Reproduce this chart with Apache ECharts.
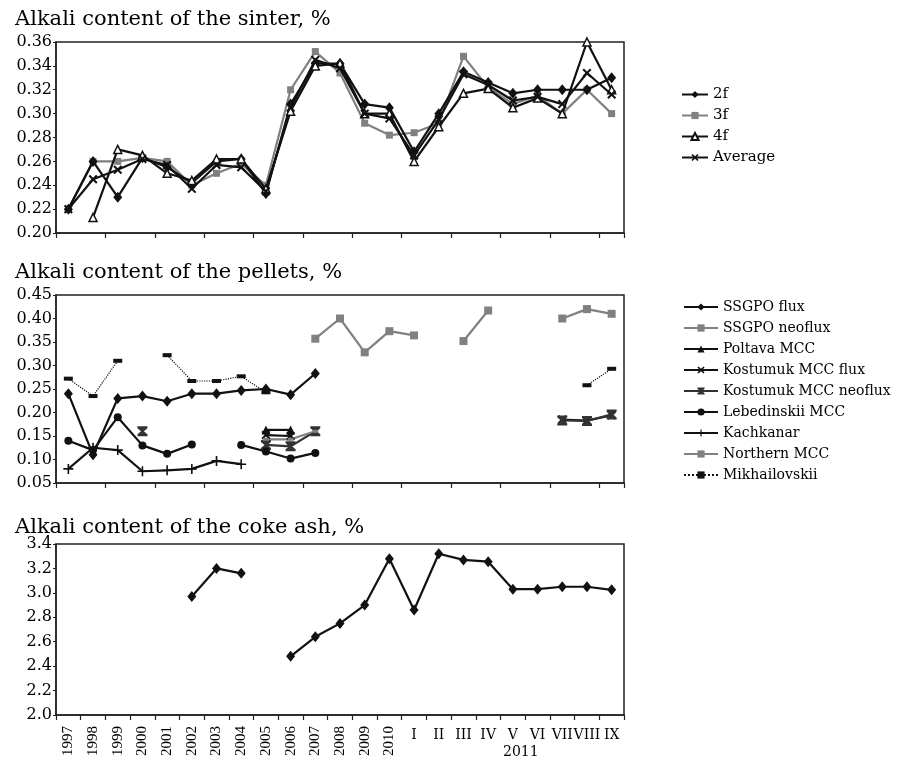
<!DOCTYPE html>
<html>
<head>
<meta charset="utf-8">
<script src="https://cdn.jsdelivr.net/npm/echarts@6/dist/echarts.min.js"></script>
<style>
html,body{margin:0;padding:0;background:#fff;}
#chart{width:910px;height:762px;}
</style>
</head>
<body>
<div id="chart"></div>
<script>
// ---------- data ----------
const categories = ['1997','1998','1999','2000','2001','2002','2003','2004','2005','2006','2007','2008','2009','2010','I','II','III','IV','V','VI','VII','VIII','IX'];

// sinter
const sinter2f  = [0.22,0.26,0.23,0.263,0.255,0.242,0.26,0.262,0.233,0.308,0.342,0.342,0.308,0.305,0.268,0.30,0.335,0.326,0.317,0.32,0.32,0.32,0.33];
const sinter3f  = [0.22,0.26,0.26,0.263,0.26,0.24,0.25,0.258,0.24,0.32,0.352,0.334,0.292,0.282,0.284,0.292,0.348,0.322,0.308,0.315,0.30,0.32,0.30];
const sinter4f  = [null,0.213,0.27,0.265,0.25,0.244,0.262,0.262,0.237,0.302,0.34,0.342,0.30,0.30,0.26,0.289,0.317,0.321,0.305,0.313,0.30,0.36,0.32];
const sinterAvg = [0.22,0.245,0.253,0.262,0.257,0.237,0.257,0.255,0.235,0.305,0.345,0.338,0.30,0.296,0.265,0.295,0.333,0.324,0.311,0.314,0.308,0.334,0.316];

// pellets
const ssgpoFlux  = [0.24,0.11,0.23,0.235,0.224,0.24,0.24,0.247,0.25,0.238,0.283,null,null,null,null,null,null,null,null,null,null,null,null];
const ssgpoNeo   = [null,null,null,null,null,null,null,null,null,null,0.357,0.40,0.328,0.373,0.364,null,0.352,0.417,null,null,0.40,0.42,0.41];
const poltava    = [null,null,null,null,null,null,null,null,0.163,0.163,null,null,null,null,null,null,null,null,null,null,null,null,null];
const kostFlux   = [null,null,null,null,null,null,null,null,0.152,0.15,null,null,null,null,null,null,null,null,null,null,0.185,0.183,0.194];
const kostNeo    = [null,null,null,0.16,null,null,null,null,0.131,0.128,0.16,null,null,null,null,null,null,null,null,null,0.183,0.182,0.196];
const lebed      = [0.14,0.12,0.19,0.13,0.112,0.132,null,0.131,0.117,0.102,0.114,null,null,null,null,null,null,null,null,null,null,null,null];
const kachkanar  = [0.08,0.125,0.12,0.075,0.077,0.08,0.097,0.09,null,null,null,null,null,null,null,null,null,null,null,null,null,null,null];
const northern   = [null,null,null,null,null,null,null,null,0.143,0.143,0.16,null,null,null,null,null,null,null,null,null,null,null,null];
const mikh       = [0.272,0.235,0.31,null,0.322,0.267,0.267,0.277,0.243,null,null,null,null,null,null,null,null,null,null,null,null,0.258,0.293];

// coke ash
const cokeAsh = [null,null,null,null,null,2.97,3.20,3.16,null,2.48,2.64,2.75,2.90,3.28,2.86,3.32,3.27,3.255,3.03,3.03,3.05,3.05,3.025];

// tick settings
const sinterTicks = {min:0.20, max:0.36, interval:0.02};
const pelletTicks = {min:0.05, max:0.45, interval:0.05};
const cokeTicks   = {min:2.0,  max:3.4,  interval:0.2};

const titles = ['Alkali content of the sinter, %','Alkali content of the pellets, %','Alkali content of the coke ash, %'];
const yearLabel = '2011';

// ---------- styling ----------
const SERIF = "'DejaVu Serif', 'Liberation Serif', serif";
const TIMES = "'Liberation Serif', 'DejaVu Serif', serif";
const BLACK = '#111';
const GRAY = '#808080';
const X_SYM = 'path://M0,1.6 L1.6,0 L5,3.4 L8.4,0 L10,1.6 L6.6,5 L10,8.4 L8.4,10 L5,6.6 L1.6,10 L0,8.4 L3.4,5 Z';
const HOUR_SYM = 'path://M0,0 L10,0 L10,2 L6.4,5 L10,8 L10,10 L0,10 L0,8 L3.6,5 L0,2 Z';
const PLUS_SYM = 'path://M4.2,0 L5.8,0 L5.8,4.2 L10,4.2 L10,5.8 L5.8,5.8 L5.8,10 L4.2,10 L4.2,5.8 L0,5.8 L0,4.2 L4.2,4.2 Z';

const grids = [
  {left:56, top:42,  width:568, height:191},
  {left:56, top:295, width:568, height:188},
  {left:56, top:544, width:568, height:171}
].map(g => Object.assign(g, {show:true, borderColor:'#222', borderWidth:1.5, backgroundColor:'transparent'}));

function xAxisBase(gi) {
  return {
    type:'category', gridIndex:gi, data:categories, boundaryGap:true, position:'bottom',
    axisLine:{show:true, lineStyle:{color:'#222', width:1.5}},
    axisTick:{show:true, inside:false, length:5, lineStyle:{color:'#222', width:1.2}},
    axisLabel:{show:false},
    splitLine:{show:false}
  };
}
function yAxisBase(gi, t, digits) {
  return {
    type:'value', gridIndex:gi, min:t.min, max:t.max, interval:t.interval,
    axisLine:{show:true, lineStyle:{color:'#222', width:1.5}},
    axisTick:{show:true, length:3, lineStyle:{color:'#222'}},
    axisLabel:{color:'#000', fontFamily:SERIF, fontSize:16, margin:4,
      formatter: v => Number(v).toFixed(digits)},
    splitLine:{show:false}
  };
}

const xAxes = [xAxisBase(0), xAxisBase(1), xAxisBase(2), xAxisBase(2)];
xAxes[2].axisLabel = {show:true, interval:0, rotate:90, color:'#000', fontFamily:TIMES, fontSize:15, margin:11,
  formatter: v => /^\d{4}$/.test(v) ? v : ''};
xAxes[3].axisLine = {show:false};
xAxes[3].axisTick = {show:false};
xAxes[3].axisLabel = {show:true, interval:0, rotate:0, color:'#000', fontFamily:SERIF, fontSize:14, margin:13,
  formatter: v => /^\d{4}$/.test(v) ? '' : v};

const yAxes = [yAxisBase(0, sinterTicks, 2), yAxisBase(1, pelletTicks, 2), yAxisBase(2, cokeTicks, 1)];

function line(name, data, gi, color, symbol, size, opts) {
  const s = {
    name, type:'line', data, xAxisIndex:gi, yAxisIndex:gi,
    connectNulls:false, symbol, symbolSize:size, showSymbol:true,
    lineStyle:{color, width:2.2},
    itemStyle:{color, borderWidth:0},
    emphasis:{disabled:true},
    animation:false, z:2
  };
  if (opts) {
    if (opts.lineStyle) Object.assign(s.lineStyle, opts.lineStyle);
    if (opts.itemStyle) Object.assign(s.itemStyle, opts.itemStyle);
    if (opts.z) s.z = opts.z;
  }
  return s;
}

const series = [
  line('3f', sinter3f, 0, GRAY, 'rect', 7, {z:1}),
  line('2f', sinter2f, 0, BLACK, 'diamond', [9,11]),
  line('4f', sinter4f, 0, BLACK, 'triangle', 8, {itemStyle:{color:'#fff', borderColor:BLACK, borderWidth:1.5}}),
  line('Average', sinterAvg, 0, BLACK, X_SYM, 9),

  line('SSGPO flux', ssgpoFlux, 1, BLACK, 'diamond', [9,11]),
  line('SSGPO neoflux', ssgpoNeo, 1, GRAY, 'rect', 8),
  line('Poltava MCC', poltava, 1, BLACK, 'triangle', 9),
  line('Kostumuk MCC flux', kostFlux, 1, BLACK, X_SYM, 9),
  line('Kostumuk MCC neoflux', kostNeo, 1, '#333', HOUR_SYM, 10),
  line('Lebedinskii MCC', lebed, 1, BLACK, 'circle', 8),
  line('Kachkanar', kachkanar, 1, BLACK, PLUS_SYM, 10),
  line('Northern MCC', northern, 1, GRAY, 'rect', [6,3]),
  line('Mikhailovskii', mikh, 1, BLACK, 'rect', [9,4], {lineStyle:{type:'dotted', width:1.2}}),

  line('Coke ash', cokeAsh, 2, BLACK, 'diamond', [9,11])
];

const legendText = {color:'#000', fontFamily:SERIF};

const option = {
  backgroundColor:'#fff',
  animation:false,
  title: titles.map((t, i) => ({
    text:t, left:10, top:[4,257,512][i],
    textStyle:{color:'#000', fontFamily:SERIF, fontSize:21, fontWeight:'normal'}
  })),
  grid: grids,
  xAxis: xAxes,
  yAxis: yAxes,
  legend: [
    {data:['2f','3f','4f','Average'], orient:'vertical', left:676, top:82,
      itemWidth:26, itemHeight:9, itemGap:6,
      textStyle:Object.assign({fontSize:15}, legendText)},
    {data:['SSGPO flux','SSGPO neoflux','Poltava MCC','Kostumuk MCC flux','Kostumuk MCC neoflux','Lebedinskii MCC','Kachkanar','Northern MCC','Mikhailovskii'],
      orient:'vertical', left:678, top:295,
      itemWidth:34, itemHeight:9, itemGap:7,
      textStyle:Object.assign({fontSize:14}, legendText)}
  ],
  graphic: [
    {type:'text', left:503, top:745, style:{text:yearLabel, fill:'#000', font:"14px 'DejaVu Serif', serif"}}
  ],
  series
};

const chart = echarts.init(document.getElementById('chart'), null, {renderer:'canvas'});
chart.setOption(option);
</script>
</body>
</html>
